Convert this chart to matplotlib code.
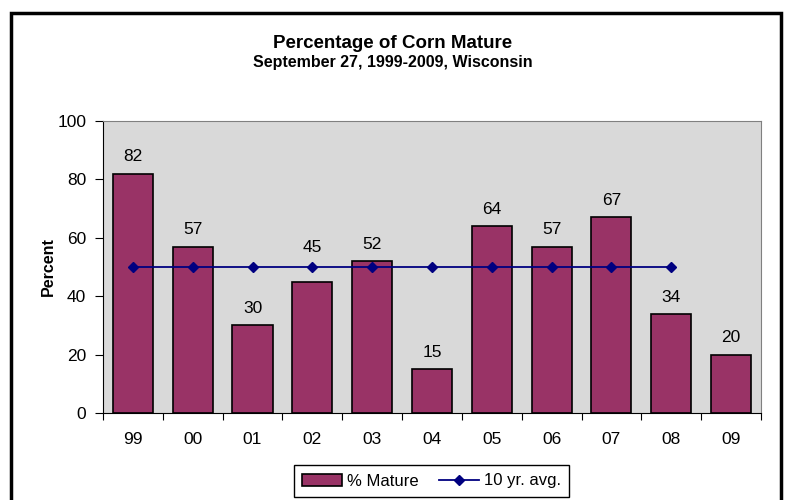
import matplotlib
matplotlib.use("Agg")
import matplotlib.pyplot as plt
from matplotlib.patches import Rectangle
import numpy as np

plt.rcParams['font.family'] = ['Liberation Sans', 'DejaVu Sans']

years = ["99", "00", "01", "02", "03", "04", "05", "06", "07", "08", "09"]
mature = [82, 57, 30, 45, 52, 15, 64, 57, 67, 34, 20]
avg_years = ["99", "00", "01", "02", "03", "04", "05", "06", "07", "08"]
avg = [50, 50, 50, 50, 50, 50, 50, 50, 50, 50]
# extra vertical shift of data labels (label for 02 was lifted above the avg line)
label_shift = [0, 0, 0, 6, 0, 0, 0, 0, 0, 0, 0]

fig = plt.figure(figsize=(7.85, 5.0), dpi=100)
ax = fig.add_axes([0.1312, 0.174, 0.8382, 0.584])
ax.set_facecolor("#D9D9D9")

x = np.arange(len(years))
ax.bar(x, mature, width=0.67, color="#993366", edgecolor="black", linewidth=1.2, zorder=2,
       label="% Mature")
xa = np.arange(len(avg_years))
ax.plot(xa, avg, color="#000080", marker="D", markersize=5, linewidth=1.3, zorder=3,
        label="10 yr. avg.")

for xi, v, sh in zip(x, mature, label_shift):
    ax.text(xi, v + 5.7 + sh, str(v), ha="center", va="center", fontsize=12.5)

ax.set_xlim(-0.5, len(years) - 0.5)
ax.set_ylim(0, 100)
ax.set_yticks(range(0, 101, 20))
ax.set_xticks(x)
ax.set_xticklabels(years)
ax.set_xticks(np.arange(-0.5, len(years), 1), minor=True)
ax.tick_params(axis="x", which="major", length=0, pad=14, labelsize=12.5)
ax.tick_params(axis="x", which="minor", length=5, direction="out", width=0.8)
ax.tick_params(axis="y", length=6, direction="out", width=0.8, labelsize=12.5, pad=6)

for s in ["top", "right"]:
    ax.spines[s].set_color("#808080")
    ax.spines[s].set_linewidth(0.8)
ax.spines["left"].set_color("black")
ax.spines["bottom"].set_color("black")

ax.set_ylabel("Percent", fontsize=11.5, fontweight="bold", labelpad=1)

fig.text(0.5, 0.914, "Percentage of Corn Mature", ha="center", va="center", fontsize=13.5, fontweight="bold")
fig.text(0.5, 0.876, "September 27, 1999-2009, Wisconsin", ha="center", va="center", fontsize=11.5, fontweight="bold")

h, l = ax.get_legend_handles_labels()
order = [l.index("% Mature"), l.index("10 yr. avg.")]
leg = fig.legend([h[i] for i in order], [l[i] for i in order], loc="center",
                 bbox_to_anchor=(0.55, 0.038), ncol=2, fontsize=12,
                 frameon=True, fancybox=False, edgecolor="black", framealpha=1,
                 handlelength=2.4, handletextpad=0.3, columnspacing=1.2, borderpad=0.5)
leg.get_frame().set_linewidth(1.0)

border = Rectangle((11 / 785, -0.05), 770 / 785, 1.05 - 13 / 500, transform=fig.transFigure,
                   fill=False, edgecolor="black", linewidth=2.5, clip_on=False)
fig.patches.append(border)

fig.savefig("out.png", dpi=100)
